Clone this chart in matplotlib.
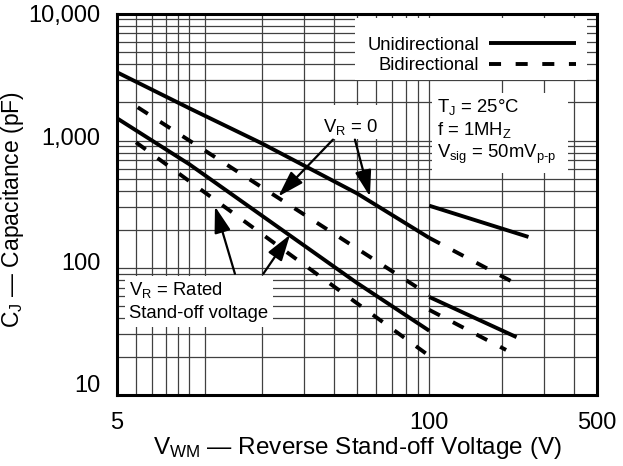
import numpy as np
import matplotlib.pyplot as plt
from matplotlib.patches import Rectangle
from matplotlib.ticker import FixedLocator, NullFormatter
from matplotlib.transforms import ScaledTranslation

plt.rcParams['font.family'] = ['Liberation Sans', 'DejaVu Sans']
plt.rcParams['mathtext.fontset'] = 'custom'
plt.rcParams['mathtext.rm'] = 'Liberation Sans'
plt.rcParams['mathtext.it'] = 'Liberation Sans:italic'
plt.rcParams['mathtext.bf'] = 'Liberation Sans:bold'

# Datos (V en volts, C en pF)
uni_v0_v = [5, 10, 20, 50, 100]
uni_v0_c = [3450, 1800, 955, 385, 172]
uni_v0_hi_v = [100, 259]
uni_v0_hi_c = [308, 175]

bi_v0_v = [6.1, 100]
bi_v0_c = [1830, 61]
bi_v0_hi_v = [100, 221]
bi_v0_hi_c = [172, 78]

uni_rated_v = [5, 10, 50, 100]
uni_rated_c = [1500, 653, 76, 32]
uni_rated_hi_v = [100, 231]
uni_rated_hi_c = [59, 28.5]

bi_rated_v = [6.0, 100]
bi_rated_c = [970, 20.3]
bi_rated_hi_v = [100, 209]
bi_rated_hi_c = [46.7, 22.6]

x_ticks = [5, 100, 500]
x_tick_labels = ["5", "100", "500"]
y_ticks = [10, 100, 1000, 10000]
y_tick_labels = ["10", "100", "1,000", "10,000"]

# lineas de la grilla (papel log)
grid_x = [6, 7, 8, 9, 10, 11.6, 20, 30, 40, 50, 60, 70, 80, 90, 200, 300, 400]
grid_y = [20, 30, 40, 50, 60, 70, 80, 90, 200, 300, 400, 500, 600, 700, 800, 900,
          2000, 3000, 4000, 5000, 6000, 7000, 8000, 9000]

fig = plt.figure(figsize=(6.23, 4.66), dpi=100)
ax = fig.add_axes([0.1878, 0.1524, 0.7705, 0.8186])
ax.set_xscale('log')
ax.set_yscale('log')
ax.set_xlim(5, 500)
ax.set_ylim(10, 10000)

ax.xaxis.set_major_locator(FixedLocator(x_ticks))
ax.yaxis.set_major_locator(FixedLocator(y_ticks))
ax.set_xticklabels(x_tick_labels)
ax.set_yticklabels(y_tick_labels)
ax.xaxis.set_minor_locator(FixedLocator(grid_x))
ax.yaxis.set_minor_locator(FixedLocator(grid_y))
ax.xaxis.set_minor_formatter(NullFormatter())
ax.yaxis.set_minor_formatter(NullFormatter())
ax.tick_params(which='both', length=0, labelsize=17)
ax.tick_params(axis='x', pad=12)
ax.tick_params(axis='y', pad=12)
ax.grid(which='both', color='#404040', lw=0.9, zorder=0)
ax.set_axisbelow(True)
for s in ax.spines.values():
    s.set_linewidth(2.2)

# en el original las etiquetas del eje y estan un poco corridas hacia arriba
for lab, dy in zip(ax.get_yticklabels(), [11, 6, 4, 0]):
    lab.set_transform(lab.get_transform() + ScaledTranslation(0, dy / 100, fig.dpi_scale_trans))

lw = 2.8
dash = (3.1, 3.75)
l_uni, = ax.plot(uni_v0_v, uni_v0_c, color='black', lw=lw, solid_capstyle='butt', zorder=5)
ax.plot(uni_v0_hi_v, uni_v0_hi_c, color='black', lw=lw, solid_capstyle='butt', zorder=5)
ax.plot(uni_rated_v, uni_rated_c, color='black', lw=lw, solid_capstyle='butt', zorder=5)
ax.plot(uni_rated_hi_v, uni_rated_hi_c, color='black', lw=lw, solid_capstyle='butt', zorder=5)
l_bi, = ax.plot(bi_v0_v, bi_v0_c, color='black', lw=lw, dashes=dash, dash_capstyle='butt', zorder=5)
ax.plot(bi_v0_hi_v, bi_v0_hi_c, color='black', lw=lw, dashes=dash, dash_capstyle='butt', zorder=5)
ax.plot(bi_rated_v, bi_rated_c, color='black', lw=lw, dashes=dash, dash_capstyle='butt', zorder=5)
ax.plot(bi_rated_hi_v, bi_rated_hi_c, color='black', lw=lw, dashes=dash, dash_capstyle='butt', zorder=5)

# cajas blancas (leyenda y anotaciones)
for (x0, y0, w, h) in [(0.496, 0.826, 0.483, 0.162), (0.656, 0.582, 0.284, 0.21),
                       (0.415, 0.671, 0.154, 0.089), (0.0167, 0.178, 0.308, 0.134)]:
    ax.add_patch(Rectangle((x0, y0), w, h, transform=ax.transAxes, facecolor='white',
                           edgecolor='none', zorder=3))

leg = ax.legend([l_uni, l_bi], ['Unidirectional', 'Bidirectional'], loc='upper right',
                bbox_to_anchor=(0.979, 0.968), borderaxespad=0, markerfirst=False,
                fontsize=13.3, handlelength=4.7, handletextpad=0.55, labelspacing=0.2,
                borderpad=0.6, frameon=False)
leg.set_zorder(6)

fs = 13.3
ax.text(0.666, 0.7426, r'T$_{\mathregular{J}}$ = 25°C', transform=ax.transAxes, fontsize=fs, va='baseline', zorder=6)
ax.text(0.666, 0.6815, r'f = 1MH$_{\mathregular{Z}}$', transform=ax.transAxes, fontsize=fs, va='baseline', zorder=6)
ax.text(0.666, 0.622, 'V$_{\\mathregular{sig}}$ = 50mV$_{\\mathregular{p\u2010p}}$', transform=ax.transAxes, fontsize=fs, va='baseline', zorder=6)
ax.text(0.429, 0.690, r'V$_{\mathregular{R}}$ = 0', transform=ax.transAxes, fontsize=fs, va='baseline', zorder=6)
ax.text(0.0256, 0.262, r'V$_{\mathregular{R}}$ = Rated', transform=ax.transAxes, fontsize=fs, va='baseline', zorder=6)
ax.text(0.0256, 0.201, 'Stand-off voltage', transform=ax.transAxes, fontsize=fs, va='baseline', zorder=6)

arrow = dict(arrowstyle='-|>,head_length=0.8,head_width=0.25', mutation_scale=20,
             color='black', lw=1.6, shrinkA=0, shrinkB=0)
ax.annotate('', xy=(23.5, 364), xytext=(39.7, 1019), arrowprops=arrow, zorder=7)
ax.annotate('', xy=(56.6, 364), xytext=(49, 1019), arrowprops=arrow, zorder=7)
ax.annotate('', xy=(12.8, 304), xytext=(15.5, 89.8), arrowprops=arrow, zorder=7)
ax.annotate('', xy=(26.3, 182), xytext=(20.35, 89.8), arrowprops=arrow, zorder=7)

ax.set_xlabel(r'V$_{\mathregular{WM}}$ — Reverse Stand-off Voltage (V)', fontsize=17.5)
ax.xaxis.set_label_coords(0.5, -0.105)
ax.set_ylabel(r'C$_{\mathregular{J}}$ — Capacitance (pF)', fontsize=16.5)
ax.yaxis.set_label_coords(-0.19, 0.485)

fig.savefig('out.png', dpi=100)
